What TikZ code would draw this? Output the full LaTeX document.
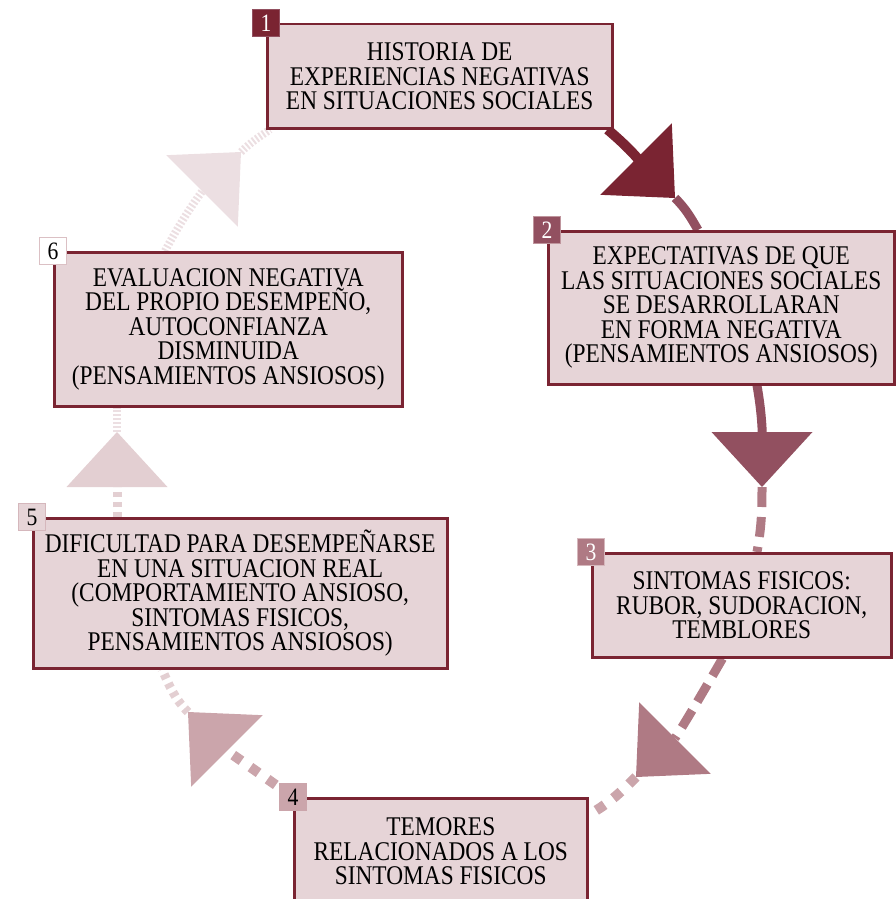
\documentclass[tikz,border=0pt]{standalone}
\usepackage{fontspec}
\setmainfont{Liberation Serif}[FakeStretch=0.865]
\usepackage{tikz}
\usetikzlibrary{arrows.meta,positioning,calc}
\pgfdeclarelayer{bg}
\pgfsetlayers{bg,main}
\definecolor{tonoA}{HTML}{7A2432}
\definecolor{tonoB}{HTML}{925060}
\definecolor{tonoC}{HTML}{AF7A84}
\definecolor{tonoD}{HTML}{CBA5AB}
\definecolor{tonoE}{HTML}{E3CFD2}
\definecolor{tonoF}{HTML}{ECDFE2}
\definecolor{rosa}{HTML}{E6D4D7}

\begin{document}
\begin{tikzpicture}[x=1pt, y=1pt,
  caja/.style={draw=tonoA, line width=2.5pt, fill=rosa, inner sep=0pt, align=center, anchor=north west, font=\fontsize{27}{24.5}\selectfont},
  num/.style={minimum size=27pt, inner sep=0pt, line width=1.5pt, font=\fontsize{25}{25}\selectfont},
  tramo1/.style={draw=tonoA, line width=10pt},
  tramo2/.style={draw=tonoB, line width=9pt},
  tramo3/.style={draw=tonoC, line width=9pt, dash pattern=on 20pt off 10pt},
  tramo4/.style={draw=tonoD, line width=10pt, dash pattern=on 10pt off 11pt},
  tramo5/.style={draw=tonoE, line width=9pt, dash pattern=on 5pt off 5pt},
  tramo6/.style={draw=tonoF, line width=8pt, dash pattern=on 2pt off 2pt},
  punta/.style={-{Triangle[length=55pt,width=101pt,line width=0pt]}}]
\useasboundingbox (0,0) rectangle (896,-899);

  % Define the boxes of the cycle
\node[caja, minimum width=345pt, minimum height=104pt] (b1) at (266,-23) {HISTORIA DE\\EXPERIENCIAS NEGATIVAS\\EN SITUACIONES SOCIALES};
\node[caja, minimum width=346pt, minimum height=153pt] (b2) at (547,-230) {EXPECTATIVAS DE QUE\\LAS SITUACIONES SOCIALES\\SE DESARROLLARAN\\EN FORMA NEGATIVA\\(PENSAMIENTOS ANSIOSOS)};
\node[caja, minimum width=299pt, minimum height=104pt] (b3) at (591,-552) {SINTOMAS FISICOS:\\RUBOR, SUDORACION,\\TEMBLORES};
\node[caja, minimum width=293pt, minimum height=106pt] (b4) at (293,-797) {TEMORES\\RELACIONADOS A LOS\\SINTOMAS FISICOS};
\node[caja, minimum width=414pt, minimum height=150pt] (b5) at (32,-517) {DIFICULTAD PARA DESEMPEÑARSE\\EN UNA SITUACION REAL\\(COMPORTAMIENTO ANSIOSO,\\SINTOMAS FISICOS,\\PENSAMIENTOS ANSIOSOS)};
\node[caja, minimum width=348pt, minimum height=154pt] (b6) at (53,-251) {EVALUACION NEGATIVA\\DEL PROPIO DESEMPEÑO,\\AUTOCONFIANZA\\DISMINUIDA\\(PENSAMIENTOS ANSIOSOS)};

  % Numbers on the corners
\node[num, fill=tonoA, draw=tonoB, text=white] (n1) at (b1.north west) {1}; \node[num, fill=tonoB, draw=tonoC!80, text=white] (n2) at (b2.north west) {2}; \node[num, fill=tonoC, draw=tonoD!80, text=white] (n3) at (b3.north west) {3}; \node[num, fill=tonoD, draw=tonoD] (n4) at (b4.north west) {4}; \node[num, fill=rosa, draw=tonoD!80] (n5) at (b5.north west) {5}; \node[num, fill=white, draw=tonoD!70] (n6) at (b6.north west) {6};

  % Tips of the arrows
\coordinate (t12) at (675,-198); \coordinate (t23) at (762,-487); \coordinate (t34) at (636,-777); \coordinate (t45) at (188,-712); \coordinate (t56) at (117,-432); \coordinate (t61) at (241,-152);

\begin{pgfonlayer}{bg}
  % Second half of each arc
\draw[tramo2] (t12) to[out=-45, in=120] ([xshift=151pt]b2.north west); \draw[tramo3] (t23) to[out=-90, in=80] ([xshift=166pt]b3.north west); \draw[tramo4] (t34) to[out=-135, in=30] ([yshift=-18pt]b4.north east); \draw[tramo5] (t45) to[out=135, in=-65] ([xshift=130pt]b5.south west); \draw[tramo6] (t56) -- ([xshift=64pt]b6.south west); \draw[tramo6] (t61) to[out=45, in=215] ([xshift=4pt]b1.south west);

  % First half of each arc, with its arrowhead
\draw[tramo1, punta] ([xshift=-6pt]b1.south east) to[out=-40, in=135] (t12); \draw[tramo2, punta] ([xshift=210pt]b2.south west) to[out=-80, in=90] (t23); \draw[tramo3, punta] ([xshift=-170pt]b3.south east) to[out=-120, in=45] (t34); \draw[tramo4, punta] (b4.north west) to[out=145, in=-45] (t45); \draw[tramo5, punta] ([xshift=85pt]b5.north west) -- (t56); \draw[tramo6, punta] ([xshift=112pt]b6.north west) to[out=62, in=225] (t61);
\end{pgfonlayer}

\end{tikzpicture}
\end{document}
